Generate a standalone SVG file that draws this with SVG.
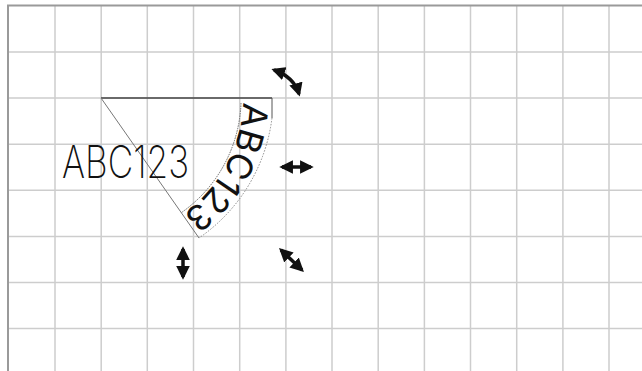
<svg xmlns="http://www.w3.org/2000/svg" width="642" height="371" viewBox="0 0 642 371">
<style>
.grid line{stroke:#cdcdcd;stroke-width:1.5}
.border{stroke:#9a9a9a;stroke-width:2;fill:none}
.arr{stroke:#111;stroke-width:3.5;fill:none;marker-start:url(#ah);marker-end:url(#ah)}
.thin{stroke:#777;stroke-width:1;fill:none}
.lbl{font-family:Inter,Roboto,"Liberation Sans",sans-serif;fill:#111}
</style>
<defs>
<marker id="ah" viewBox="0 0 10 10" refX="8" refY="5" markerWidth="3.9" markerHeight="3.9" orient="auto-start-reverse"><path d="M0,0 L10,5 L0,10 z" fill="#111"/></marker>
<path id="arcPath" d="M 243 98 A 142 142 0 0 1 182.4 214.3"/>
</defs>
<rect width="642" height="371" fill="#fff"/>
<g class="grid">
<line x1="55" y1="6" x2="55" y2="371"/>
<line x1="101.2" y1="6" x2="101.2" y2="371"/>
<line x1="147.3" y1="6" x2="147.3" y2="371"/>
<line x1="193.5" y1="6" x2="193.5" y2="371"/>
<line x1="239.7" y1="6" x2="239.7" y2="371"/>
<line x1="285.9" y1="6" x2="285.9" y2="371"/>
<line x1="332" y1="6" x2="332" y2="371"/>
<line x1="378.2" y1="6" x2="378.2" y2="371"/>
<line x1="424.4" y1="6" x2="424.4" y2="371"/>
<line x1="470.5" y1="6" x2="470.5" y2="371"/>
<line x1="516.7" y1="6" x2="516.7" y2="371"/>
<line x1="562.9" y1="6" x2="562.9" y2="371"/>
<line x1="609" y1="6" x2="609" y2="371"/>
<line x1="8" y1="52" x2="642" y2="52"/>
<line x1="8" y1="98.1" x2="642" y2="98.1"/>
<line x1="8" y1="144.2" x2="642" y2="144.2"/>
<line x1="8" y1="190.3" x2="642" y2="190.3"/>
<line x1="8" y1="236.4" x2="642" y2="236.4"/>
<line x1="8" y1="282.5" x2="642" y2="282.5"/>
<line x1="8" y1="328.6" x2="642" y2="328.6"/>
</g>
<path class="border" d="M 8 371 L 8 5.5 L 642 5.5"/>
<g id="sector">
<line x1="101" y1="98" x2="272" y2="98" stroke="#444" stroke-width="1.5"/>
<line x1="272" y1="98" x2="272" y2="118" stroke="#555" stroke-width="1"/>
<line class="thin" x1="101" y1="98" x2="199" y2="238"/>
<path d="M 241 103 A 140 140 0 0 1 181.3 212.7" stroke="#666" stroke-width="1" stroke-dasharray="1.5 1" fill="none"/>
<path d="M 272 118 A 172 172 0 0 1 199 238" stroke="#888" stroke-width="1" stroke-dasharray="1.5 1.5" fill="none"/>
</g>
<g id="curved-text">
<text class="lbl" font-size="35" font-weight="400"><textPath href="#arcPath" startOffset="4" textLength="132" lengthAdjust="spacingAndGlyphs">ABC123</textPath></text>
</g>
<g id="plain-text">
<text class="lbl" x="62" y="177.5" font-size="45" font-weight="200" textLength="127" lengthAdjust="spacingAndGlyphs">ABC123</text>
</g>
<g id="handles">
<path id="rotate" class="arr" d="M 274 70 Q 294 77 299 94"/>
<line id="resize-h" class="arr" x1="282" y1="167" x2="311" y2="167"/>
<line id="resize-v" class="arr" x1="183" y1="249" x2="183" y2="277"/>
<line id="resize-d" class="arr" x1="281" y1="250" x2="302" y2="270"/>
</g>
</svg>
